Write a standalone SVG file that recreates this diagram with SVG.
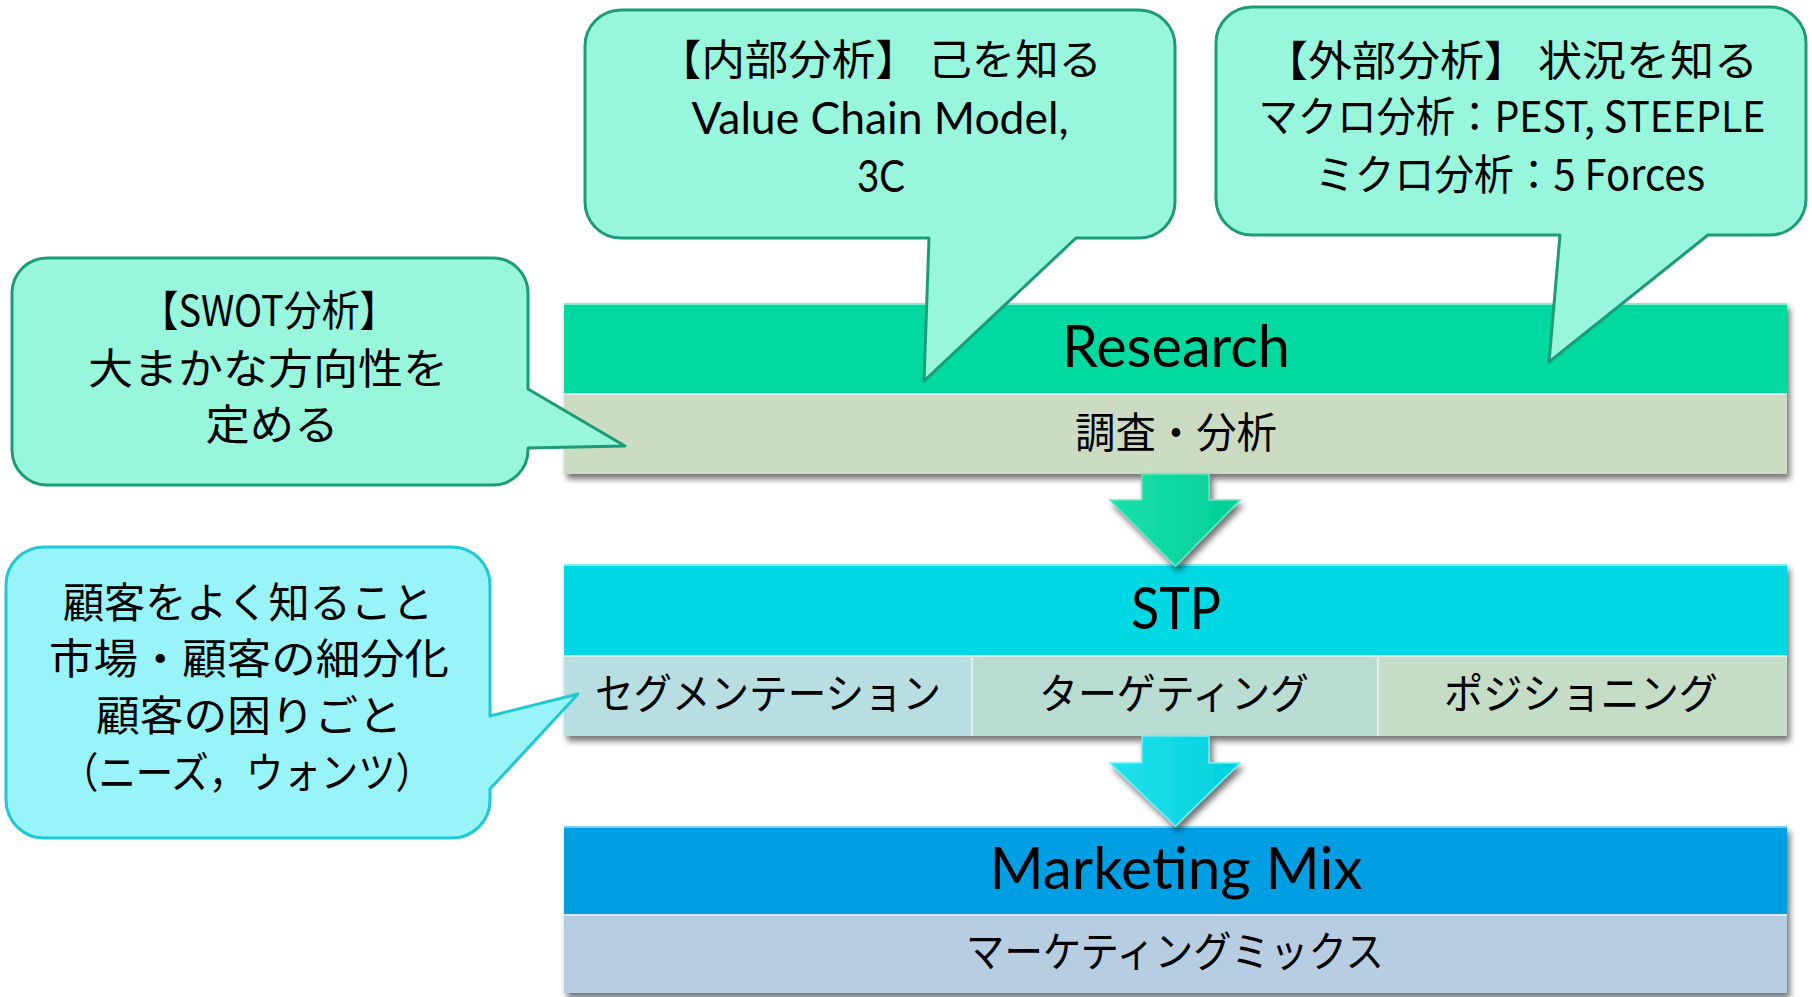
<svg xmlns="http://www.w3.org/2000/svg" width="1812" height="997" viewBox="0 0 1812 997">
<defs>
<filter id="sh" x="-5%" y="-20%" width="110%" height="150%">
<feDropShadow dx="3" dy="5" stdDeviation="3" flood-color="#000" flood-opacity="0.55"/>
</filter>
<linearGradient id="gArrow" x1="0" y1="0" x2="1" y2="0">
<stop offset="0" stop-color="#1be0ab"/><stop offset="1" stop-color="#00cf97"/>
</linearGradient>
<linearGradient id="cArrow" x1="0" y1="0" x2="1" y2="0">
<stop offset="0" stop-color="#22e2ec"/><stop offset="1" stop-color="#00d0dc"/>
</linearGradient>
</defs>
<style>
text{font-family:"Noto Sans CJK JP","Noto Sans",sans-serif;fill:#000;text-anchor:middle}
.t{font-family:Lato,"Noto Sans",sans-serif;font-size:58px}
.s{font-size:42px}
.c{font-size:42px}
.l{font-family:Lato,"Noto Sans",sans-serif;font-size:45px}
.sep{stroke:#ffffff;stroke-opacity:0.5;stroke-width:2}
.gcall{fill:#97f6db;stroke:#1c9c76;stroke-width:3;stroke-linejoin:round}
.ccall{fill:#98f4f9;stroke:#1ec9d3;stroke-width:3;stroke-linejoin:round}
</style>

<g id="research">
<g filter="url(#sh)">
<rect x="564" y="303" width="1223" height="90" fill="#02d9a0"/>
<rect x="564" y="393" width="1223" height="81" fill="#ccdcc3"/>
</g>
<line class="sep" x1="564" y1="304" x2="1787" y2="304"/>
<line class="sep" x1="564" y1="394" x2="1787" y2="394"/>
<text class="t" x="1176" y="367" textLength="228" lengthAdjust="spacingAndGlyphs">Research</text>
<text class="s" x="1176" y="448" textLength="202" lengthAdjust="spacingAndGlyphs">調査・分析</text>
</g>

<g id="stp">
<g filter="url(#sh)">
<rect x="564" y="564" width="1223" height="91" fill="#02d8e4"/>
<rect x="564" y="655" width="408" height="81" fill="#b9dee2"/>
<rect x="972" y="655" width="406" height="81" fill="#b9ddd2"/>
<rect x="1378" y="655" width="409" height="81" fill="#c5ddc7"/>
</g>
<line class="sep" x1="564" y1="565" x2="1787" y2="565"/>
<line class="sep" x1="564" y1="656" x2="1787" y2="656"/>
<line class="sep" x1="972" y1="656" x2="972" y2="736"/>
<line class="sep" x1="1378" y1="656" x2="1378" y2="736"/>
<text class="t" x="1176" y="629" textLength="90" lengthAdjust="spacingAndGlyphs">STP</text>
<text class="s" x="768" y="709" textLength="346" lengthAdjust="spacingAndGlyphs">セグメンテーション</text>
<text class="s" x="1174" y="709" textLength="270" lengthAdjust="spacingAndGlyphs">ターゲティング</text>
<text class="s" x="1581" y="709" textLength="274" lengthAdjust="spacingAndGlyphs">ポジショニング</text>
</g>

<g id="mix">
<g filter="url(#sh)">
<rect x="564" y="826" width="1223" height="88" fill="#019fe4"/>
<rect x="564" y="914" width="1223" height="79" fill="#b7cee2"/>
</g>
<line class="sep" x1="564" y1="827" x2="1787" y2="827"/>
<line class="sep" x1="564" y1="915" x2="1787" y2="915"/>
<text class="t" x="1176" y="889" textLength="373" lengthAdjust="spacingAndGlyphs">Marketing Mix</text>
<text class="s" x="1175" y="967" textLength="418" lengthAdjust="spacingAndGlyphs">マーケティングミックス</text>
</g>

<g id="connectors">
<polygon points="1142,474 1209,474 1209,500 1240,500 1175.5,566 1110,500 1142,500" fill="url(#gArrow)" stroke="#5fe8c2" stroke-width="1.5" filter="url(#sh)"/>
<polygon points="1142,736 1209,736 1209,763 1240,763 1175.5,826 1110,763 1142,763" fill="url(#cArrow)" stroke="#6eeef4" stroke-width="1.5" filter="url(#sh)"/>
</g>

<g id="callout-swot">
<path class="gcall" d="M47,258 H493 A35,35 0 0 1 528,293 V389 L625,446 L528,448 V450 A35,35 0 0 1 493,485 H47 A35,35 0 0 1 12,450 V293 A35,35 0 0 1 47,258 Z"/>
<text class="c" x="269" y="326" textLength="257" lengthAdjust="spacingAndGlyphs">【SWOT分析】</text>
<text class="c" x="268" y="384" textLength="360" lengthAdjust="spacingAndGlyphs">大まかな方向性を</text>
<text class="c" x="272" y="440" textLength="133" lengthAdjust="spacingAndGlyphs">定める</text>
</g>

<g id="callout-internal">
<path class="gcall" d="M621,10 H1139 A36,36 0 0 1 1175,46 V202 A36,36 0 0 1 1139,238 H1076 L924,381 L929,238 H621 A36,36 0 0 1 585,202 V46 A36,36 0 0 1 621,10 Z"/>
<text class="c" x="880" y="75" textLength="444" lengthAdjust="spacingAndGlyphs">【内部分析】 己を知る</text>
<text class="l" x="880" y="134" textLength="377" lengthAdjust="spacingAndGlyphs">Value Chain Model,</text>
<text class="l" x="881" y="192" textLength="48" lengthAdjust="spacingAndGlyphs">3C</text>
</g>

<g id="callout-external">
<path class="gcall" d="M1252,7 H1770 A36,36 0 0 1 1806,43 V199 A36,36 0 0 1 1770,235 H1708 L1549,362 L1560,235 H1252 A36,36 0 0 1 1216,199 V43 A36,36 0 0 1 1252,7 Z"/>
<text class="c" x="1511" y="76" textLength="494" lengthAdjust="spacingAndGlyphs">【外部分析】 状況を知る</text>
<text class="c" x="1512" y="132" textLength="507" lengthAdjust="spacingAndGlyphs">マクロ分析：PEST, STEEPLE</text>
<text class="c" x="1510" y="190" textLength="390" lengthAdjust="spacingAndGlyphs">ミクロ分析：5 Forces</text>
</g>

<g id="callout-customer">
<path class="ccall" d="M44,547 H452 A38,38 0 0 1 490,585 V716 L578,694 L490,789 V800 A38,38 0 0 1 452,838 H44 A38,38 0 0 1 6,800 V585 A38,38 0 0 1 44,547 Z"/>
<text class="c" x="248" y="618" textLength="370" lengthAdjust="spacingAndGlyphs">顧客をよく知ること</text>
<text class="c" x="249" y="674" textLength="400" lengthAdjust="spacingAndGlyphs">市場・顧客の細分化</text>
<text class="c" x="249" y="731" textLength="306" lengthAdjust="spacingAndGlyphs">顧客の困りごと</text>
<text class="c" x="247" y="788" textLength="372" lengthAdjust="spacingAndGlyphs">（ニーズ，ウォンツ）</text>
</g>
</svg>
